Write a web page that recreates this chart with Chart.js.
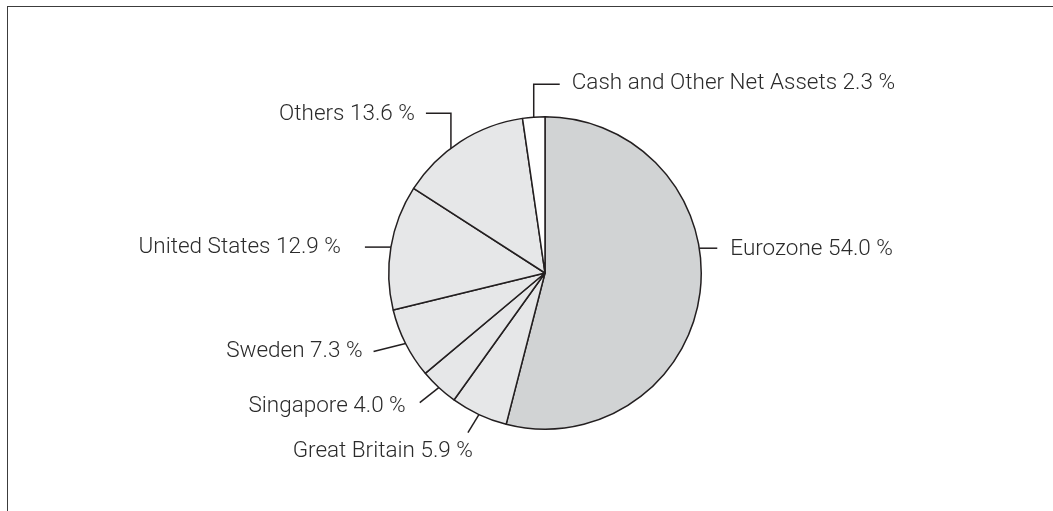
<!DOCTYPE html>
<html><head><meta charset="utf-8">
<script src="https://cdn.jsdelivr.net/npm/chart.js@4"></script>
<style>
html,body{margin:0;padding:0;background:#fff;}
#wrap{position:relative;width:1053px;height:511px;overflow:hidden;}
#frame{position:absolute;left:7px;top:6px;right:0;bottom:-5px;border-top:1.5px solid #3c3c3c;border-left:1.5px solid #3c3c3c;}
canvas{position:absolute;left:0;top:0;}
</style></head>
<body>
<div id="wrap"><div id="frame"></div><canvas id="c" width="1053" height="511"></canvas></div>
<script>
const categories = ['Eurozone','Great Britain','Singapore','Sweden','United States','Others','Cash and Other Net Assets'];
const shares = [54.0, 5.9, 4.0, 7.3, 12.9, 13.6, 2.3];
const sliceColors = ['#d1d3d4','#e6e7e8','#e6e7e8','#e6e7e8','#e6e7e8','#e6e7e8','#ffffff'];

// leader-line layout: anchor fraction within slice, relative path segments, text offset from line end
const leaderLayout = [
  {f:0.416, path:[[18,0]], tx:13, ty:1, align:'left'},
  {f:0.5, path:[[-11,18]], tx:5, ty:19, align:'right'},
  {f:0.5, path:[[-19,15]], tx:-14, ty:4, align:'right'},
  {f:0.5, path:[[-32,8]], tx:-11, ty:0, align:'right'},
  {f:0.5, path:[[-26,0]], tx:-24, ty:0, align:'right'},
  {f:0.413, path:[[0,-35],[-25,0]], tx:-11, ty:1, align:'right'},
  {f:0.5, path:[[0,-33],[26,0]], tx:12, ty:-1, align:'left'}
];

const leaderPlugin = {
  id:'leaders',
  afterDatasetsDraw(chart){
    const ctx = chart.ctx;
    const meta = chart.getDatasetMeta(0);
    ctx.save();
    meta.data.forEach((el,i)=>{
      const p = el.getProps(['x','y','startAngle','endAngle','outerRadius'], true);
      const L = leaderLayout[i];
      const a = p.startAngle + (p.endAngle - p.startAngle)*L.f;
      let x = p.x + p.outerRadius*Math.cos(a);
      let y = p.y + p.outerRadius*Math.sin(a);
      ctx.beginPath();
      ctx.moveTo(x,y);
      L.path.forEach(s=>{ x += s[0]; y += s[1]; ctx.lineTo(x,y); });
      ctx.strokeStyle = '#231f20';
      ctx.lineWidth = 1.5;
      ctx.stroke();
      ctx.font = '300 22.5px Roboto, "Liberation Sans", Arial, sans-serif';
      ctx.fillStyle = '#2b2b2b';
      ctx.textAlign = L.align;
      ctx.textBaseline = 'middle';
      ctx.fillText(categories[i] + ' ' + shares[i].toFixed(1) + ' %', x + L.tx, y + L.ty);
    });
    ctx.restore();
  }
};

new Chart(document.getElementById('c'), {
  type:'pie',
  data:{
    labels: categories,
    datasets:[{
      data: shares,
      backgroundColor: sliceColors,
      borderColor:'#231f20',
      borderWidth:1.5
    }]
  },
  options:{
    responsive:false,
    animation:false,
    layout:{padding:{left:37, right:0, top:116, bottom:81}},
    plugins:{legend:{display:false}, tooltip:{enabled:false}}
  },
  plugins:[leaderPlugin]
});
</script>
</body></html>
